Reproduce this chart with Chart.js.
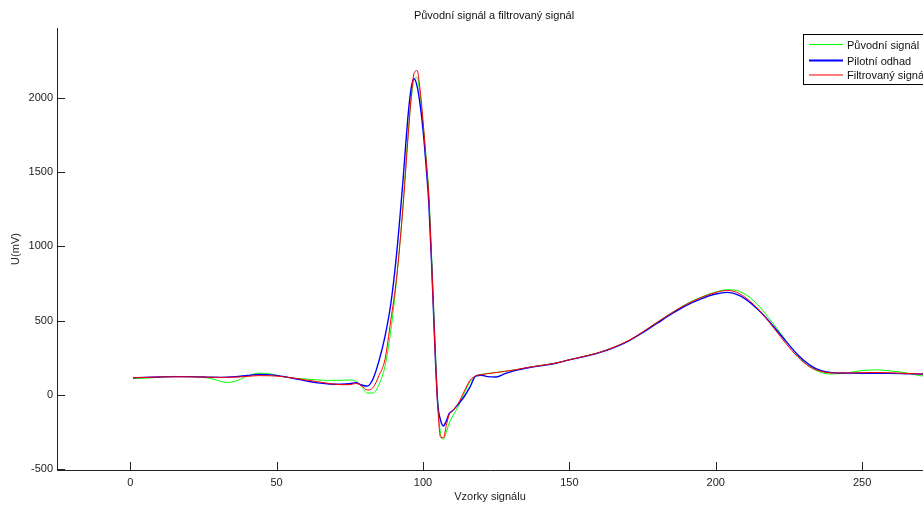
<!DOCTYPE html>
<html>
<head>
<meta charset="utf-8">
<script src="https://cdn.jsdelivr.net/npm/chart.js@4"></script>
<style>
  body { margin: 0; background: #fff; }
  canvas { display: block; }
</style>
</head>
<body>
<canvas id="graf" width="923" height="506"></canvas>
<script>
// vzorky (osa x) a hodnoty tri signalu v mV
var vzorky = [1, 5, 10, 15, 20, 25, 28, 31, 33, 36, 40, 44, 48, 52, 56, 60, 64, 68, 72, 75,
  77, 79, 81, 83, 85, 87, 89, 91, 93, 95, 96, 97, 98, 99, 100, 101, 102, 103, 104, 105,
  106, 107, 108, 109, 110, 112, 114, 116, 118, 120, 122, 125, 128, 132, 136, 140, 145, 150, 155, 160,
  165, 170, 175, 180, 185, 190, 195, 200, 204, 208, 212, 216, 220, 224, 228, 232, 236, 240, 245, 250,
  255, 260, 265, 270, 275];

var puvodni = [110, 112, 118, 124, 122, 117, 108, 90, 83, 92, 125, 146, 140, 122, 112, 106, 100, 97, 98, 100,
  92, 55, 12, 12, 70, 190, 430, 780, 1230, 1780, 1990, 2130, 2140, 2030, 1840, 1620, 1360, 920, 430, -20,
  -260, -300, -250, -190, -150, -80, 5, 85, 125, 138, 143, 150, 158, 170, 184, 197, 212, 236, 259, 284,
  318, 362, 422, 488, 553, 612, 658, 693, 708, 698, 650, 570, 470, 365, 265, 190, 150, 140, 148, 163,
  168, 160, 148, 128, 122];

var pilotni = [115, 117, 120, 122, 122, 120, 118, 117, 118, 122, 130, 137, 134, 124, 110, 94, 80, 73, 71, 74,
  82, 66, 58, 110, 230, 390, 610, 950, 1400, 1900, 2070, 2130, 2080, 1960, 1790, 1560, 1290, 860, 360, -50,
  -170, -210, -175, -125, -110, -65, -15, 50, 125, 132, 122, 120, 142, 166, 182, 195, 211, 235, 257, 282,
  316, 360, 418, 482, 546, 603, 647, 679, 690, 670, 618, 545, 455, 360, 270, 202, 162, 149, 146, 145,
  145, 144, 142, 140, 138];

var filtrovany = [115, 117, 120, 121, 121, 119, 118, 117, 117, 119, 124, 129, 128, 122, 112, 100, 88, 76, 68, 68,
  76, 62, 32, 50, 130, 236, 500, 790, 1220, 1760, 2010, 2170, 2185, 2060, 1850, 1600, 1330, 870, 370, -60,
  -285, -290, -205, -130, -110, -60, 20, 95, 127, 136, 142, 150, 158, 170, 185, 197, 212, 236, 259, 284,
  319, 363, 423, 489, 553, 610, 655, 690, 703, 683, 625, 545, 445, 345, 255, 190, 158, 147, 147, 149,
  150, 148, 144, 140, 136];

var xTicks = [0, 50, 100, 150, 200, 250];
var yTicks = [-500, 0, 500, 1000, 1500, 2000];

var nazvy = ["Původní signál", "Pilotní odhad", "Filtrovaný signál"];
var barvy = ["#00ff00", "#0000ff", "#ff0000"];
var nadpis = "Původní signál a filtrovaný signál";

function body(hodnoty) {
  return vzorky.map(function (x, i) { return { x: x, y: hodnoty[i] }; });
}

var pismo = "'Liberation Sans', Arial, sans-serif";

// nadpis, znacky dovnitr grafu + legenda v pravem hornim rohu
var znackyALegenda = {
  id: 'znackyALegenda',
  afterDraw: function (chart) {
    var ctx = chart.ctx;
    var a = chart.chartArea;
    var sx = chart.scales.x, sy = chart.scales.y;
    ctx.save();

    ctx.font = '11px ' + pismo;
    ctx.fillStyle = '#111';
    ctx.textAlign = 'center';
    ctx.textBaseline = 'middle';
    ctx.fillText(nadpis, 494, 16);

    ctx.strokeStyle = '#222';
    ctx.lineWidth = 1;
    ctx.beginPath();
    yTicks.forEach(function (v) {
      var p = Math.round(sy.getPixelForValue(v)) + 0.5;
      ctx.moveTo(a.left, p);
      ctx.lineTo(a.left + 8, p);
    });
    xTicks.forEach(function (v) {
      var p = Math.round(sx.getPixelForValue(v)) + 0.5;
      ctx.moveTo(p, a.bottom);
      ctx.lineTo(p, a.bottom - 8);
    });
    ctx.stroke();

    // legenda
    ctx.fillStyle = '#fff';
    ctx.fillRect(803.5, 34.5, 140, 50);
    ctx.strokeStyle = '#000';
    ctx.lineWidth = 1;
    ctx.strokeRect(803.5, 34.5, 140, 50);
    var radky = [44.5, 60.5, 75];
    var sirky = [1, 2, 1.2];
    ctx.textAlign = 'left';
    for (var i = 0; i < 3; i++) {
      ctx.beginPath();
      ctx.strokeStyle = barvy[i];
      ctx.lineWidth = sirky[i];
      ctx.moveTo(809, radky[i]);
      ctx.lineTo(843, radky[i]);
      ctx.stroke();
      ctx.fillStyle = '#111';
      ctx.fillText(nazvy[i], 847, Math.round(radky[i]) + 0.5);
    }
    ctx.restore();
  }
};

new Chart("graf", {
  type: "line",
  data: {
    datasets: [
      { label: nazvy[0], data: body(puvodni), borderColor: barvy[0], borderWidth: 1, order: 2 },
      { label: nazvy[1], data: body(pilotni), borderColor: barvy[1], borderWidth: 1.4, order: 1 },
      { label: nazvy[2], data: body(filtrovany), borderColor: barvy[2], borderWidth: 1, order: 0 }
    ]
  },
  options: {
    responsive: false,
    animation: false,
    layout: { padding: { top: 28, left: 0, right: 0, bottom: 0 } },
    elements: {
      point: { radius: 0 },
      line: { cubicInterpolationMode: 'monotone', fill: false }
    },
    plugins: {
      legend: { display: false },
      tooltip: { enabled: false },
      title: { display: false }
    },
    scales: {
      x: {
        type: 'linear',
        min: -25,
        max: 270.8,
        grid: { display: false, drawTicks: false },
        border: { display: true, color: '#222', width: 1 },
        ticks: {
          color: '#222', font: { family: pismo, size: 11 }, padding: 6, maxRotation: 0,
          callback: function (v) { return String(v); }
        },
        afterBuildTicks: function (s) { s.ticks = xTicks.map(function (v) { return { value: v }; }); },
        afterFit: function (s) { s.height = 36; },
        title: {
          display: true, text: "Vzorky signálu", color: '#222',
          font: { family: pismo, size: 11 }, padding: { top: 0, bottom: 2.5 }
        }
      },
      y: {
        type: 'linear',
        min: -507,
        max: 2472,
        grid: { display: false, drawTicks: false },
        border: { display: true, color: '#222', width: 1 },
        ticks: {
          color: '#222', font: { family: pismo, size: 11 }, padding: 4,
          callback: function (v) { return String(v); }
        },
        afterBuildTicks: function (s) { s.ticks = yTicks.map(function (v) { return { value: v }; }); },
        afterFit: function (s) { s.width = 57; },
        title: {
          display: true, text: "U(mV)", color: '#222',
          font: { family: pismo, size: 11 }, padding: { top: 9, bottom: 0 }
        }
      }
    }
  },
  plugins: [znackyALegenda]
});
</script>
</body>
</html>
